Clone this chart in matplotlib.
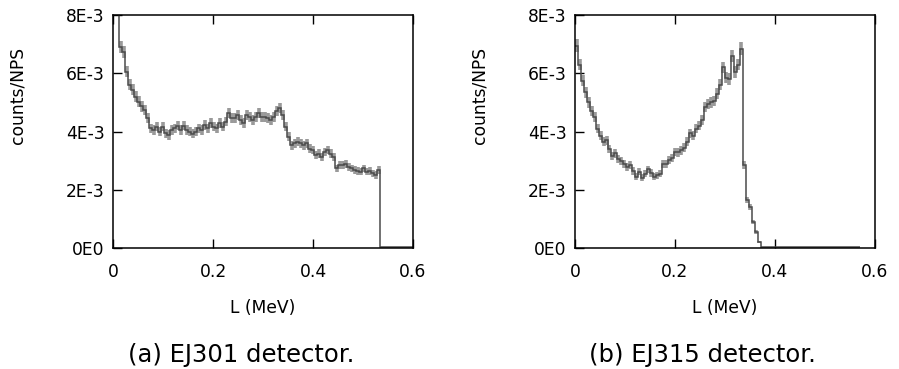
import numpy as np
import matplotlib
matplotlib.use('Agg')
import matplotlib.pyplot as plt

# bin width 0.006 MeV, values in units of 1E-3 counts/NPS
bin_w = 0.006

ej301 = [9.5, 8.2, 6.9, 6.72, 6.06, 5.6, 5.43, 5.2, 5.03, 4.86,
         4.74, 4.46, 4.11, 4.05, 4.17, 4.0, 4.17, 3.94, 3.88, 4.05,
         4.11, 4.2, 4.05, 4.2, 4.05, 4.0, 3.92, 4.0, 4.11, 4.05,
         4.23, 4.11, 4.29, 4.17, 4.11, 4.29, 4.17, 4.34, 4.63, 4.46,
         4.46, 4.57, 4.4, 4.29, 4.57, 4.51, 4.4, 4.51, 4.63, 4.51,
         4.51, 4.46, 4.4, 4.51, 4.69, 4.8, 4.57, 4.17, 3.82, 3.53,
         3.59, 3.65, 3.59, 3.53, 3.59, 3.41, 3.36, 3.19, 3.24, 3.13,
         3.3, 3.36, 3.24, 3.13, 2.73, 2.85, 2.85, 2.88, 2.79, 2.73,
         2.68, 2.65, 2.62, 2.73, 2.62, 2.65, 2.56, 2.51, 2.68,
         0.02, 0.02, 0.02, 0.02, 0.02, 0.02, 0.02, 0.02, 0.02, 0.02, 0.02]

ej315 = [6.95, 6.3, 5.75, 5.35, 5.0, 4.7, 4.5, 4.1, 3.85, 3.65,
         3.7, 3.4, 3.15, 3.25, 3.05, 3.0, 2.9, 2.78, 2.85, 2.65,
         2.45, 2.62, 2.42, 2.55, 2.7, 2.58, 2.45, 2.5, 2.55, 2.9,
         2.88, 3.02, 3.1, 3.3, 3.28, 3.35, 3.45, 3.65, 3.94, 3.85,
         4.1, 4.2, 4.4, 4.85, 4.95, 5.0, 5.05, 5.3, 5.6, 6.2,
         5.85, 5.8, 6.6, 6.05, 6.3, 6.85,
         2.85, 1.65, 1.4, 0.9, 0.55, 0.2,
         0.03, 0.03, 0.03, 0.03, 0.03, 0.03, 0.03, 0.03, 0.03, 0.03,
         0.03, 0.03, 0.03, 0.03, 0.03, 0.03, 0.03, 0.03, 0.03, 0.03,
         0.03, 0.03, 0.03, 0.03, 0.03, 0.03, 0.03, 0.03, 0.03, 0.03,
         0.03, 0.03, 0.03]

ytick_vals = [0, 2e-3, 4e-3, 6e-3, 8e-3]
ytick_labels = ['0E0', '2E-3', '4E-3', '6E-3', '8E-3']
xtick_vals = [0, 0.2, 0.4, 0.6]
xtick_labels = ['0', '0.2', '0.4', '0.6']
captions = ['(a) EJ301 detector.', '(b) EJ315 detector.']

fig = plt.figure(figsize=(8.99, 3.69), dpi=100)
axes = [fig.add_axes([0.1257, 0.3279, 0.3337, 0.6314]),
        fig.add_axes([0.6396, 0.3279, 0.3337, 0.6314])]

for ax, data, cap, xc in zip(axes, [ej301, ej315], captions, [0.268, 0.781]):
    y = np.array(data) * 1e-3
    edges = np.arange(len(y) + 1) * bin_w
    centers = edges[:-1] + bin_w / 2
    err = 0.08e-3 * np.sqrt(np.array(data))
    ax.vlines(centers, y - err, y + err, color='#9a9a9a', lw=2.6, zorder=1)
    ax.stairs(y, edges, color='#4a4a4a', lw=1.1, baseline=None, zorder=2)
    ax.set_xlim(0, 0.6)
    ax.set_ylim(0, 8e-3)
    ax.set_xticks(xtick_vals)
    ax.set_xticklabels(xtick_labels)
    ax.set_yticks(ytick_vals)
    ax.set_yticklabels(ytick_labels)
    ax.tick_params(direction='in', length=6.5, width=1.0, labelsize=12.3,
                   top=True, right=False)
    ax.tick_params(axis='x', pad=11)
    ax.tick_params(axis='y', pad=6)
    for s in ax.spines.values():
        s.set_linewidth(1.1)
    ax.set_xlabel('L (MeV)', fontsize=12.3, labelpad=13)
    ax.set_ylabel('counts/NPS', fontsize=12.3)
    ax.yaxis.set_label_coords(-0.29, 0.655)
    fig.text(xc, 0.038, cap, fontsize=17.5, ha='center', va='center')

plt.savefig('out.png', dpi=100)
